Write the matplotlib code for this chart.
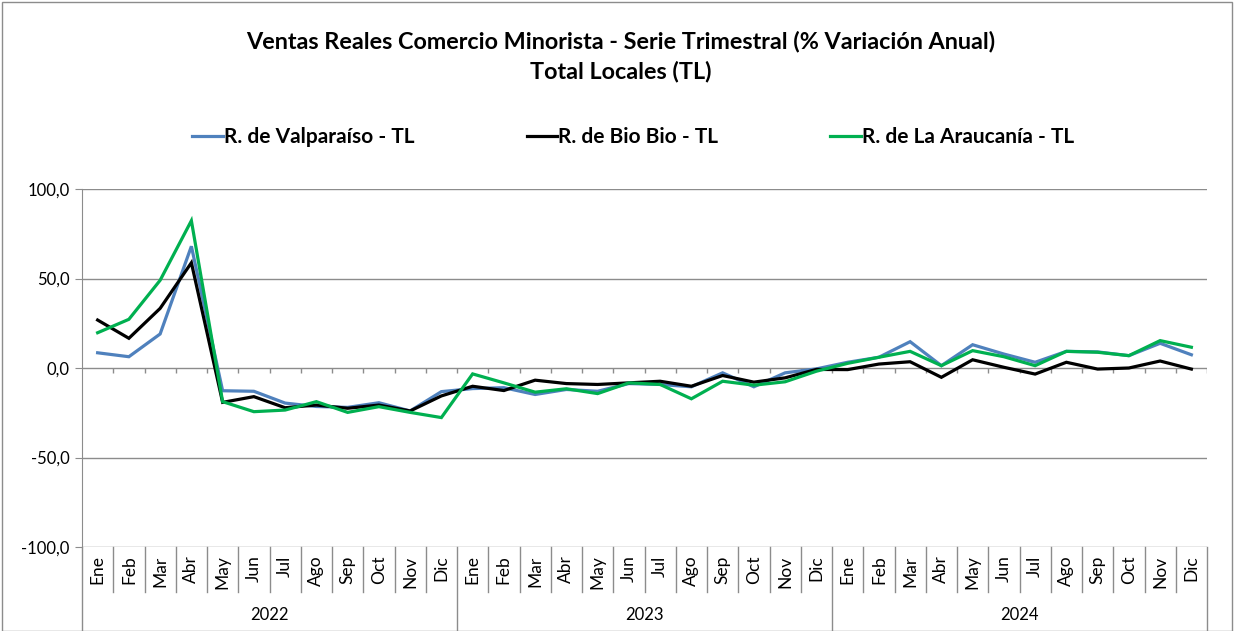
import matplotlib
matplotlib.use("Agg")
import matplotlib.pyplot as plt
from matplotlib.patches import Rectangle
from matplotlib.transforms import blended_transform_factory

months = ["Ene", "Feb", "Mar", "Abr", "May", "Jun", "Jul", "Ago", "Sep", "Oct", "Nov", "Dic"]
years = ["2022", "2023", "2024"]

valparaiso = [8.5, 6.3, 19.0, 68.0, -12.7, -13.0, -19.6, -21.5, -22.0, -19.4, -24.0, -13.2,
              -11.5, -11.0, -14.8, -12.0, -13.0, -8.7, -9.2, -10.5, -2.7, -10.5, -2.7, -0.5,
              3.2, 6.0, 14.7, 1.3, 13.0, 7.8, 3.2, 9.3, 9.0, 6.9, 13.8, 7.4]
biobio = [26.8, 16.6, 33.3, 58.8, -19.2, -16.0, -22.2, -20.7, -22.5, -20.7, -24.0, -15.6,
          -10.2, -12.6, -6.8, -8.7, -9.2, -8.3, -7.4, -10.2, -4.2, -7.9, -5.5, -0.8,
          -0.9, 2.2, 3.5, -5.2, 4.6, 0.4, -3.4, 3.2, -0.6, 0.0, 3.9, -0.6]
araucania = [19.7, 27.2, 49.0, 82.3, -18.8, -24.4, -23.5, -18.8, -24.8, -21.6, -24.8, -27.7,
             -3.3, -8.3, -13.5, -11.6, -14.3, -8.3, -9.2, -17.2, -7.4, -9.6, -7.7, -1.8,
             2.6, 6.0, 9.3, 1.3, 9.7, 6.3, 1.3, 9.3, 8.8, 6.9, 15.3, 11.6]

series_names = ["R. de Valparaíso - TL", "R. de Bio Bio - TL", "R. de La Araucanía - TL"]
series_colors = ["#4F81BD", "#000000", "#00B050"]
yticks = [-100, -50, 0, 50, 100]

FONT = ["Lato", "DejaVu Sans"]
plt.rcParams["font.family"] = FONT

W, H = 1234, 631
fig = plt.figure(figsize=(W / 100, H / 100), dpi=100)
fig.patches.append(Rectangle((2 / W, 0), (W - 4) / W, (H - 2) / H, transform=fig.transFigure,
                             fill=False, edgecolor="#8c8c8c", linewidth=1.0))

L, R, T, B = 82, 1207, 189, 547
ax = fig.add_axes([L / W, 1 - B / H, (R - L) / W, (B - T) / H])
n = len(valparaiso)
xs = [i + 0.5 for i in range(n)]
ax.set_xlim(0, n)
ax.set_ylim(-100, 100)

grid = "#8c8c8c"
for v in [50, 100, -50, -100]:
    ax.axhline(v, color=grid, linewidth=1.0, zorder=1)
ax.axhline(0, color=grid, linewidth=1.0, zorder=1)
ax.vlines(range(1, n + 1), -2.8, 0, color=grid, linewidth=1.0, zorder=1)

for data, name, col in zip([valparaiso, biobio, araucania], series_names, series_colors):
    ax.plot(xs, data, color=col, linewidth=2.3, label=name, zorder=3, solid_joinstyle="miter")

for s in ["top", "right", "bottom"]:
    ax.spines[s].set_visible(False)
ax.spines["left"].set_color(grid)
ax.set_yticks(yticks)
ax.set_yticklabels([f"{v:.1f}".replace(".", ",") for v in yticks], fontsize=12)
ax.tick_params(axis="y", direction="out", length=5, color=grid, pad=4)

all_months = months * len(years)
ax.set_xticks(xs)
ax.set_xticklabels(all_months, rotation=90, fontsize=12.5)
ax.tick_params(axis="x", length=0, pad=6)

tr = blended_transform_factory(ax.transData, ax.transAxes)
ah = B - T
mid_low = -(592 - B) / ah
bot = -(H - B) / ah
for i in range(n + 1):
    y0 = bot if i % 12 == 0 else mid_low
    ax.plot([i, i], [0, y0], transform=tr, color=grid, linewidth=1.0, clip_on=False)
for k, yr in enumerate(years):
    ax.text(12 * k + 6, -(615 - B) / ah, yr, transform=tr, ha="center", va="center", fontsize=12)

fig.text(621 / W, 1 - 42 / H, "Ventas Reales Comercio Minorista - Serie Trimestral (% Variación Anual)",
         ha="center", va="center", fontsize=16.8, fontweight="bold")
fig.text(621 / W, 1 - 72 / H, "Total Locales (TL)", ha="center", va="center", fontsize=16.8, fontweight="bold")

fig.legend(loc="center", bbox_to_anchor=(633 / W, 1 - 137 / H), ncol=3, frameon=False,
           prop={"weight": "bold", "size": 15}, handlelength=1.45, columnspacing=5.4,
           handletextpad=0.05, handleheight=0.7)

fig.savefig("out.png", dpi=100)
